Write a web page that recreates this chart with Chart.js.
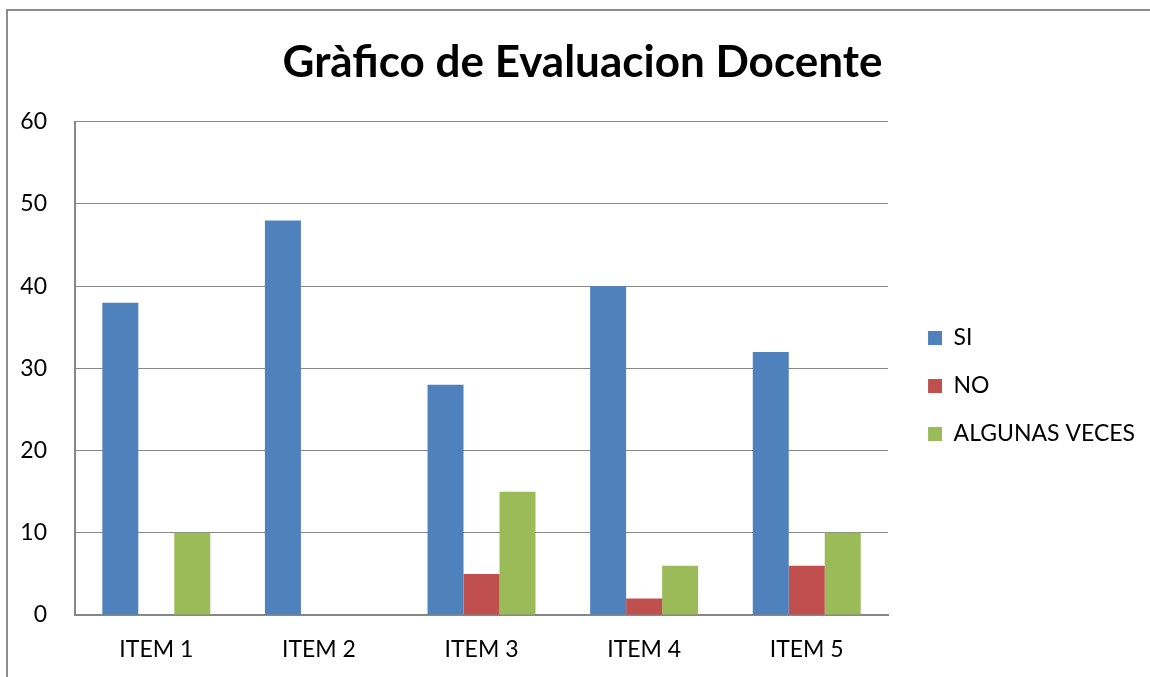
<!DOCTYPE html>
<html>
<head>
<meta charset="utf-8">
<script src="https://cdn.jsdelivr.net/npm/chart.js@4.4.1/dist/chart.umd.min.js"></script>
<style>
  html, body { margin: 0; padding: 0; background: #ffffff; }
  #wrap { position: absolute; left: 0; top: 0; width: 1150px; height: 677px; overflow: hidden; }
  #frame { position: absolute; left: 6px; top: 9px; width: 1200px; height: 700px;
           border-left: 2px solid #8c8c8c; border-top: 2px solid #8c8c8c; }
  canvas { position: absolute; left: 0; top: 0; }
</style>
</head>
<body>
<div id="wrap">
  <div id="frame"></div>
  <canvas id="c" width="1150" height="677"></canvas>
</div>
<script>
const chartTitle = "Gràfico de Evaluacion Docente";
const categories = ["ITEM 1", "ITEM 2", "ITEM 3", "ITEM 4", "ITEM 5"];
const seriesNames = ["SI", "NO", "ALGUNAS VECES"];
const siValues = [38, 48, 28, 40, 32];
const noValues = [0, 0, 5, 2, 6];
const algunasValues = [10, 0, 15, 6, 10];
const yTicks = [0, 10, 20, 30, 40, 50, 60];

const fontFamily = "Lato, 'Open Sans', sans-serif";
const gridColor = "#878787";

const chart = new Chart(document.getElementById("c"), {
  type: "bar",
  data: {
    labels: categories,
    datasets: [
      { label: seriesNames[0], data: siValues, backgroundColor: "#4F81BD" },
      { label: seriesNames[1], data: noValues, backgroundColor: "#C0504D" },
      { label: seriesNames[2], data: algunasValues, backgroundColor: "#9BBB59" }
    ]
  },
  options: {
    responsive: false,
    animation: false,
    devicePixelRatio: 1,
    layout: { padding: { left: 20, right: 5, top: 0, bottom: 0 } },
    datasets: { bar: { barPercentage: 1, categoryPercentage: 0.664 } },
    plugins: {
      tooltip: { enabled: false },
      title: {
        display: true,
        text: chartTitle,
        color: "#000000",
        font: { family: fontFamily, size: 44, weight: "bold", lineHeight: 1.2 },
        padding: { top: 36, bottom: 33 }
      },
      legend: {
        position: "right",
        title: { display: true, text: " ", font: { size: 15, lineHeight: 1 }, padding: { top: 80, bottom: 0 } },
        labels: {
          color: "#000000",
          boxWidth: 14,
          boxHeight: 14,
          padding: 25,
          font: { family: fontFamily, size: 23 }
        }
      }
    },
    scales: {
      x: {
        grid: { display: false, drawTicks: false },
        border: { display: true, color: gridColor, width: 2 },
        ticks: { color: "#000000", padding: 21, font: { family: fontFamily, size: 23 } },
        afterFit: s => { s.height = 62; }
      },
      y: {
        min: 0,
        max: 60,
        afterBuildTicks: s => { s.ticks = yTicks.map(v => ({ value: v })); },
        grid: { color: gridColor, lineWidth: 1, drawTicks: false },
        border: { display: true, color: gridColor, width: 2 },
        ticks: { color: "#000000", padding: 28, font: { family: fontFamily, size: 23 } },
        afterFit: s => { s.width = 55; }
      },
      y2: {
        position: "right",
        display: false,
        afterFit: s => { s.width = 15; }
      }
    }
  }
});
</script>
</body>
</html>
